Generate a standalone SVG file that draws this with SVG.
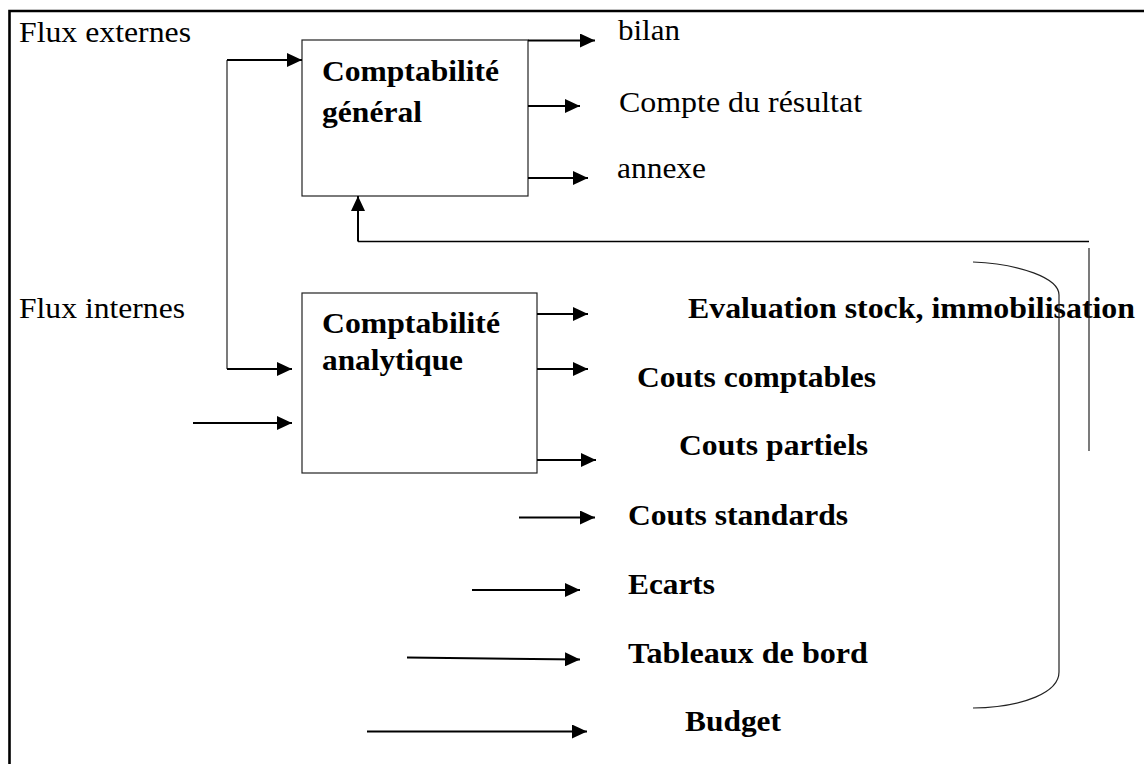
<svg xmlns="http://www.w3.org/2000/svg" width="1144" height="764" viewBox="0 0 1144 764">
  <style>
    text { font-family: "Liberation Serif", "Times New Roman", serif; font-size: 29px; fill: #000; }
    .b { font-weight: bold; }
    .box { fill: #fff; stroke: #222; stroke-width: 1.2; }
    .arr { stroke: #000; stroke-width: 2; fill: none; marker-end: url(#head); }
    .thin { stroke: #222; stroke-width: 1.2; fill: none; }
  </style>
  <defs>
    <marker id="head" viewBox="0 0 15 14" refX="15" refY="7" markerWidth="15" markerHeight="14" markerUnits="userSpaceOnUse" orient="auto">
      <path d="M0,0 L15,7 L0,14 Z" fill="#000"/>
    </marker>
  </defs>
  <rect width="1144" height="764" fill="#fff"/>

  <!-- page frame (left and top edges) -->
  <path d="M9.5,764 L9.5,11 L1144,11" fill="none" stroke="#000" stroke-width="2.6"/>

  <!-- side labels -->
  <text x="19" y="41.5" textLength="172" lengthAdjust="spacingAndGlyphs">Flux externes</text>
  <text x="19" y="317.5" textLength="166" lengthAdjust="spacingAndGlyphs">Flux internes</text>

  <g id="compta-generale">
    <rect class="box" x="302" y="40" width="226" height="156"/>
    <text class="b" x="322" y="81" textLength="177" lengthAdjust="spacingAndGlyphs">Comptabilité</text>
    <text class="b" x="322" y="122" textLength="100" lengthAdjust="spacingAndGlyphs">général</text>
  </g>

  <g id="compta-analytique">
    <rect class="box" x="302" y="293" width="235" height="180"/>
    <text class="b" x="322" y="333" textLength="178" lengthAdjust="spacingAndGlyphs">Comptabilité</text>
    <text class="b" x="322" y="370" textLength="141" lengthAdjust="spacingAndGlyphs">analytique</text>
  </g>

  <g id="sorties-generales">
    <text x="618" y="40" textLength="62" lengthAdjust="spacingAndGlyphs">bilan</text>
    <text x="619" y="111.5" textLength="243" lengthAdjust="spacingAndGlyphs">Compte du résultat</text>
    <text x="617" y="178" textLength="89" lengthAdjust="spacingAndGlyphs">annexe</text>
  </g>

  <g id="sorties-analytiques">
    <text class="b" x="688" y="318" textLength="447" lengthAdjust="spacingAndGlyphs">Evaluation stock, immobilisation</text>
    <text class="b" x="637" y="386.5" textLength="239" lengthAdjust="spacingAndGlyphs">Couts comptables</text>
    <text class="b" x="679" y="455" textLength="189" lengthAdjust="spacingAndGlyphs">Couts partiels</text>
    <text class="b" x="628" y="525" textLength="220" lengthAdjust="spacingAndGlyphs">Couts standards</text>
    <text class="b" x="628" y="594" textLength="87" lengthAdjust="spacingAndGlyphs">Ecarts</text>
    <text class="b" x="628" y="662.5" textLength="240" lengthAdjust="spacingAndGlyphs">Tableaux de bord</text>
    <text class="b" x="685" y="730.5" textLength="96" lengthAdjust="spacingAndGlyphs">Budget</text>
  </g>

  <g id="connectors">
    <!-- external/internal flows entering both ledgers -->
    <path class="thin" d="M227,60 L227,369"/>
    <path class="arr" d="M227,60 L302,60"/>
    <path class="arr" d="M227,369 L292,369"/>
    <path class="arr" d="M193,423 L292,423"/>

    <!-- general ledger outputs -->
    <path class="arr" d="M528,40.5 L595,40.5"/>
    <path class="arr" d="M528,106 L580,106"/>
    <path class="arr" d="M528,178 L588,178"/>

    <!-- analytical outputs -->
    <path class="arr" d="M537,314 L588,314"/>
    <path class="arr" d="M537,369 L588,369"/>
    <path class="arr" d="M537,460 L596,460"/>
    <path class="arr" d="M519,517.5 L595,517.5"/>
    <path class="arr" d="M472,590 L580,590"/>
    <path class="arr" d="M407,657.5 L580,659.5"/>
    <path class="arr" d="M367,731.5 L587,731.5"/>

    <!-- feedback to general ledger -->
    <path d="M1089,241.5 L358,241.5" fill="none" stroke="#000" stroke-width="1.4"/>
    <path class="arr" d="M358,241.5 L358,196"/>
    <path class="thin" d="M1089,248 L1089,451"/>

    <!-- brace grouping the analytical outputs -->
    <path class="thin" d="M973,262 C1020,264 1059,278 1059,295 L1059,672 C1059,692 1025,707 973,708"/>
  </g>
</svg>
